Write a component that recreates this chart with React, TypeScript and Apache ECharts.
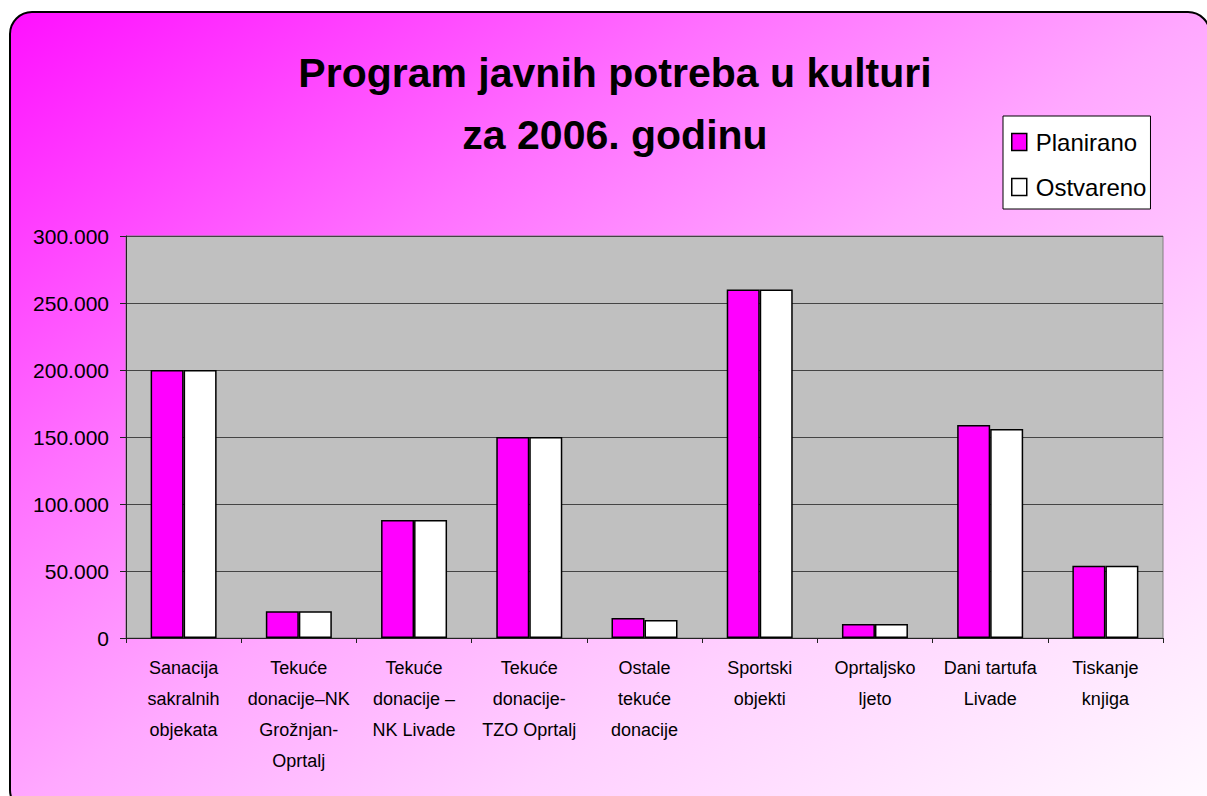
import React, { useEffect, useRef } from "react";
import * as echarts from "echarts";

const categories = [
  "Sanacija\nsakralnih\nobjekata",
  "Tekuće\ndonacije–NK\nGrožnjan-\nOprtalj",
  "Tekuće\ndonacije –\nNK Livade",
  "Tekuće\ndonacije-\nTZO Oprtalj",
  "Ostale\ntekuće\ndonacije",
  "Sportski\nobjekti",
  "Oprtaljsko\nljeto",
  "Dani tartufa\nLivade",
  "Tiskanje\nknjiga",
];
const planirano = [200000, 20000, 88000, 150000, 15000, 260000, 10500, 159000, 54000];
const ostvareno = [200000, 20000, 88000, 150000, 13500, 260000, 10500, 156000, 54000];
const seriesNames = ["Planirano", "Ostvareno"];
const titleText = "Program javnih potreba u kulturi\nza 2006. godinu";
const yMin = 0;
const yMax = 300000;
const yInterval = 50000;

const FONT = "'Liberation Sans', Arial, sans-serif";

function fmt(v: number): string {
  return String(Math.round(v)).replace(/\B(?=(\d{3})+(?!\d))/g, ".");
}

export default function App() {
  const ref = useRef<HTMLDivElement>(null);
  useEffect(() => {
    const chart = echarts.init(ref.current!, null, { renderer: "svg" });
    chart.setOption({
      animation: false,
      backgroundColor: "#ffffff",
      textStyle: { fontFamily: FONT, color: "#000" },
      graphic: [
        {
          type: "rect",
          z: -10,
          silent: true,
          shape: { x: 10, y: 12, width: 1200, height: 800, r: 22 },
          style: {
            fill: new echarts.graphic.LinearGradient(0, 0, 1, 1, [
              { offset: 0, color: "#ff10ff" },
              { offset: 0.3, color: "#ff70ff" },
              { offset: 0.5, color: "#ffa8ff" },
              { offset: 0.7, color: "#ffd0ff" },
              { offset: 1, color: "#fffaff" },
            ]),
            stroke: "#000",
            lineWidth: 2,
          },
        },
      ],
      title: {
        text: titleText,
        left: 615,
        top: 42,
        textAlign: "center",
        padding: 0,
        textStyle: {
          fontFamily: FONT,
          fontSize: 41,
          fontWeight: "bold",
          lineHeight: 62,
          color: "#000",
        },
      },
      legend: {
        orient: "vertical",
        left: 1003,
        top: 116,
        backgroundColor: "#fff",
        borderColor: "#000",
        borderWidth: 1,
        borderRadius: 0,
        padding: [13, 4, 9, 8],
        itemWidth: 15,
        itemHeight: 17,
        itemGap: 19,
        icon: "rect",
        itemStyle: { borderColor: "#000", borderWidth: 1.5 },
        textStyle: { fontFamily: FONT, fontSize: 24, lineHeight: 26, color: "#000", padding: [0, 0, 0, 4] },
        data: seriesNames,
      },
      grid: {
        left: 126,
        top: 236,
        right: 44,
        bottom: 158,
        show: true,
        backgroundColor: "#c0c0c0",
        borderColor: "#808080",
        borderWidth: 1,
      },
      xAxis: {
        type: "category",
        data: categories,
        axisLine: { lineStyle: { color: "#222", width: 1 } },
        axisTick: { show: true, length: 5, lineStyle: { color: "#222" } },
        axisLabel: {
          interval: 0,
          margin: 14,
          fontFamily: FONT,
          fontSize: 18,
          lineHeight: 31,
          color: "#000",
        },
      },
      yAxis: {
        type: "value",
        min: yMin,
        max: yMax,
        interval: yInterval,
        axisLine: { show: true, lineStyle: { color: "#222", width: 1 } },
        axisTick: { show: true, length: 6, lineStyle: { color: "#222" } },
        axisLabel: {
          margin: 17,
          fontFamily: FONT,
          fontSize: 21,
          color: "#000",
          formatter: (v: number) => fmt(v),
        },
        splitLine: { show: true, lineStyle: { color: "#444", width: 1 } },
      },
      series: [
        {
          name: seriesNames[0],
          type: "bar",
          data: planirano,
          barWidth: 33,
          barGap: "0%",
          itemStyle: { color: "#ff00ff", borderColor: "#000", borderWidth: 1.5 },
        },
        {
          name: seriesNames[1],
          type: "bar",
          data: ostvareno,
          barWidth: 33,
          barGap: "0%",
          itemStyle: { color: "#ffffff", borderColor: "#000", borderWidth: 1.5 },
        },
      ],
    });
    return () => chart.dispose();
  }, []);
  return (
    <div
      ref={ref}
      style={{ position: "fixed", left: 0, top: 0, width: 1207, height: 796 }}
    />
  );
}
